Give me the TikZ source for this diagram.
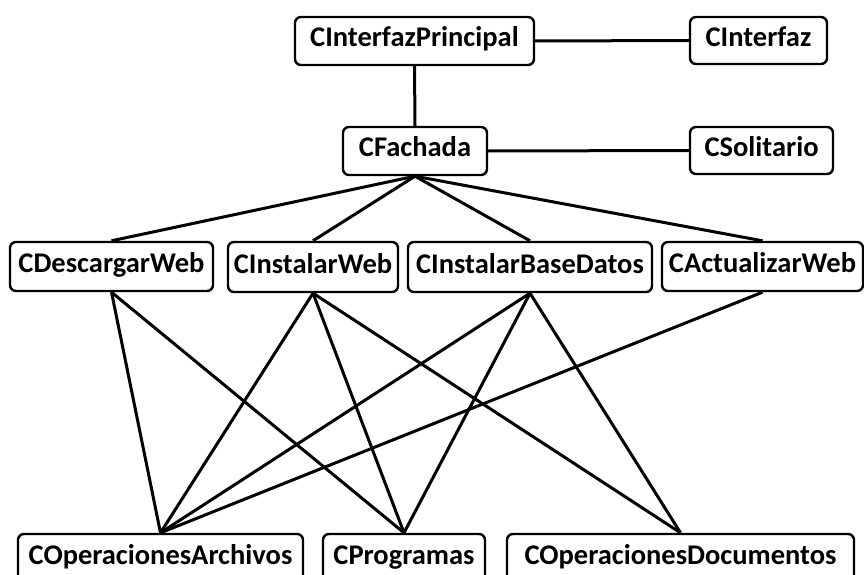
\documentclass[tikz,border=0pt]{standalone}
\usepackage{fontspec}
\setmainfont{Carlito}
\begin{document}
\begin{tikzpicture}[x=1pt,y=-1pt,
  cls/.style={draw=black, line width=2.4pt, rounded corners=6pt, fill=white,
    inner sep=0pt, font=\fontsize{28.5}{32}\selectfont\bfseries,
    text height=17pt, text depth=5pt},
  link/.style={draw=black, line width=3pt}]
\useasboundingbox (0,0) rectangle (864,575);
\clip (0,0) rectangle (864,575);
\node[cls, minimum width=239pt, minimum height=48pt] (pri) at (414.5,41) {CInterfazPrincipal};
\node[cls, minimum width=137pt, minimum height=47pt] (int) at (758.5,40.5) {CInterfaz};
\node[cls, minimum width=144pt, minimum height=48pt] (fac) at (415,151) {CFachada};
\node[cls, minimum width=143pt, minimum height=47pt] (sol) at (761.5,150.5) {CSolitario};
\node[cls, minimum width=203pt, minimum height=49pt] (des) at (111.5,266.5) {CDescargarWeb};
\node[cls, minimum width=170pt, minimum height=50pt] (iw) at (313,267) {CInstalarWeb};
\node[cls, minimum width=244pt, minimum height=50pt] (ibd) at (530,267) {CInstalarBaseDatos};
\node[cls, minimum width=201pt, minimum height=49pt] (act) at (762.5,266.5) {CActualizarWeb};
\node[cls, minimum width=285pt, minimum height=48pt] (oa) at (160.5,558) {COperacionesArchivos};
\node[cls, minimum width=162pt, minimum height=48pt] (pro) at (404,558) {CProgramas};
\node[cls, minimum width=347pt, minimum height=48pt] (od) at (680.5,558) {COperacionesDocumentos};
\draw[link] (pri.east) -- (int.west);
\draw[link] (fac.east) -- (sol.west);
\draw[link] (pri.south) -- (fac.north);
\foreach \t in {des,iw,ibd,act} \draw[link] (fac.south) -- (\t.north);
\foreach \s/\t in {des/oa,des/pro,iw/oa,iw/pro,iw/od,ibd/oa,ibd/pro,ibd/od,act/oa}
  \draw[link] (\s.south) -- (\t.north);
\end{tikzpicture}
\end{document}
